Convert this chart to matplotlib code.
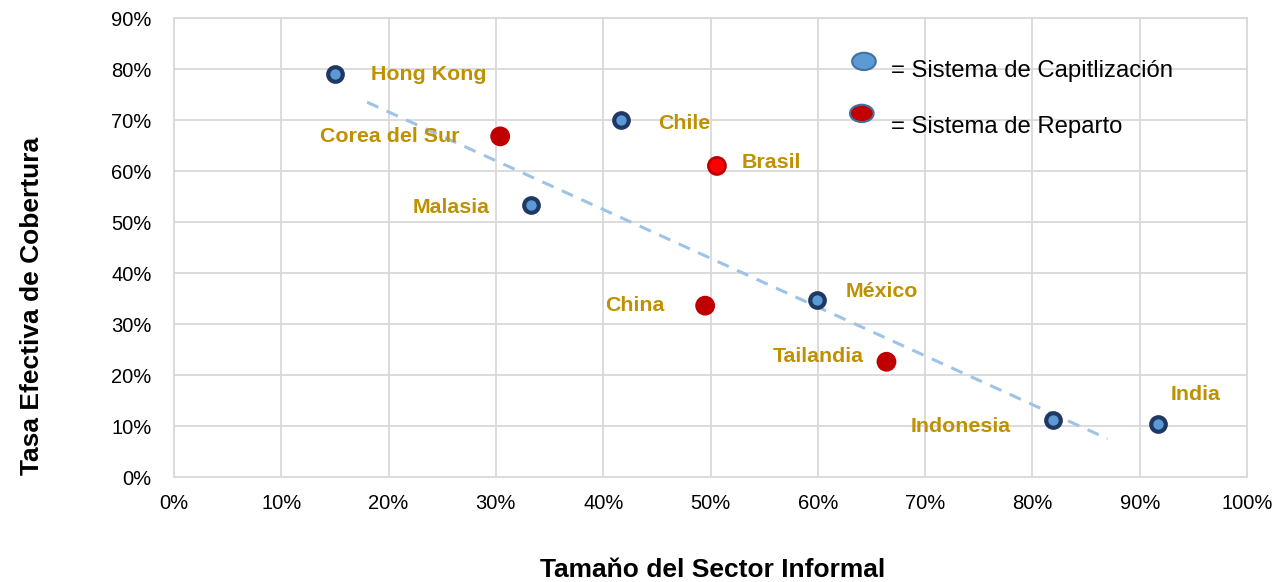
import matplotlib.pyplot as plt
from matplotlib.patches import Ellipse
from matplotlib.ticker import PercentFormatter

plt.rcParams['font.family'] = ['Liberation Sans', 'DejaVu Sans']

# Sistema de capitalización
cap_paises = ['Hong Kong', 'Chile', 'Malasia', 'México', 'Indonesia', 'India']
cap_informal = [15.0, 41.7, 33.3, 59.9, 81.9, 91.7]
cap_cobertura = [79.0, 70.0, 53.3, 34.8, 11.1, 10.4]

# Sistema de reparto
rep_paises = ['Corea del Sur', 'Brasil', 'China', 'Tailandia']
rep_informal = [30.4, 50.6, 49.5, 66.4]
rep_cobertura = [66.8, 61.0, 33.6, 22.6]

# línea de tendencia
tend_x = [18.0, 87.0]
tend_y = [73.5, 7.5]

x_ticks = list(range(0, 101, 10))
y_ticks = list(range(0, 91, 10))

# desplazamiento de las etiquetas (pixeles)
cap_offsets = [(94, 0), (63, -3), (-80, -2), (65, 8), (-92, -6), (38, 29)]
rep_offsets = [(-110, 0), (54, 3), (-70, 0), (-68, 5)]

label_color = '#BF9000'

fig = plt.figure(figsize=(12.81, 5.82), dpi=100)
ax = fig.add_axes([0.1358, 0.1804, 0.8377, 0.7886])

ax.plot(tend_x, tend_y, color='#9DC3E6', lw=2.2, ls=(0, (4, 3)), zorder=2)

ax.scatter(cap_informal, cap_cobertura, s=110, facecolor='#5B9BD5',
           edgecolor='#1F3864', linewidth=3, zorder=3)
rep_face = ['#C00000', '#FF0000', '#C00000', '#C00000']
ax.scatter(rep_informal, rep_cobertura, s=150, facecolor=rep_face,
           edgecolor='#C00000', linewidth=2, zorder=3)

for nombre, x, y, off in zip(cap_paises, cap_informal, cap_cobertura, cap_offsets):
    ax.annotate(nombre, (x, y), xytext=off, textcoords='offset pixels',
                ha='center', va='center', fontsize=15.4, fontweight='bold',
                color=label_color)
for nombre, x, y, off in zip(rep_paises, rep_informal, rep_cobertura, rep_offsets):
    ax.annotate(nombre, (x, y), xytext=off, textcoords='offset pixels',
                ha='center', va='center', fontsize=15.4, fontweight='bold',
                color=label_color)

# leyenda manual
ax.add_patch(Ellipse((64.3, 81.5), 2.2, 3.4, facecolor='#5B9BD5',
                     edgecolor='#41719C', lw=1.5, zorder=4))
ax.add_patch(Ellipse((64.1, 71.3), 2.2, 3.4, facecolor='#C00000',
                     edgecolor='#41719C', lw=1.5, zorder=4))
ax.text(66.8, 79.6, '= Sistema de Capitlización', fontsize=17.2, va='center')
ax.text(66.8, 68.6, '= Sistema de Reparto', fontsize=17.2, va='center')

ax.set_xlim(0, 100)
ax.set_ylim(0, 90)
ax.set_xticks(x_ticks)
ax.set_yticks(y_ticks)
ax.xaxis.set_major_formatter(PercentFormatter(decimals=0))
ax.yaxis.set_major_formatter(PercentFormatter(decimals=0))
ax.tick_params(length=0, labelsize=14.5)
ax.tick_params(axis='y', pad=16)
ax.tick_params(axis='x', pad=12)
ax.grid(True, color='#D9D9D9', lw=1.3)
ax.set_axisbelow(True)
for sp in ax.spines.values():
    sp.set_color('#D9D9D9')
    sp.set_linewidth(1.3)

# títulos de los ejes
fig.text(713 / 1281, 1 - 570 / 582, 'Tamaňo del Sector Informal',
         fontsize=19, fontweight='bold', ha='center', va='center')
fig.text(32 / 1281, 1 - 306 / 582, 'Tasa Efectiva de Cobertura',
         fontsize=19, fontweight='bold', ha='center', va='center',
         rotation=90)

plt.savefig('out.png', dpi=100)
